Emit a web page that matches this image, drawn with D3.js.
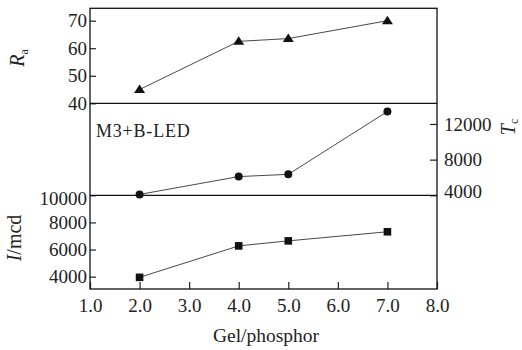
<!DOCTYPE html>
<html>
<head>
<meta charset="utf-8">
<script src="https://cdn.jsdelivr.net/npm/d3@7"></script>
<style>
  body { margin: 0; background: #fff; }
  svg { display: block; font-family: "Liberation Serif", "DejaVu Serif", serif; }
  .tick text { font-family: "Liberation Serif", "DejaVu Serif", serif; font-size: 19px; fill: #222; }
  .tick line { stroke: #222; stroke-width: 1.2; }
</style>
</head>
<body>
<div id="chart"></div>
<script>
// data
var gelRatio = [2.0, 4.0, 5.0, 7.0];
var raValues = [45, 62.5, 63.5, 70];
var tcValues = [4100, 6100, 6350, 13400];
var intensityValues = [3950, 6270, 6640, 7310];

var xTicks = [1, 2, 3, 4, 5, 6, 7, 8];
var raTicks = [40, 50, 60, 70];
var tcTicks = [4000, 8000, 12000];
var intensityTicks = [4000, 6000, 8000, 10000];

var width = 522, height = 350;
var plotLeft = 90, plotRight = 437, plotTop = 8.3, sep1 = 103.3, sep2 = 195.3, plotBottom = 289;

var svg = d3.select("#chart").append("svg")
    .attr("width", width)
    .attr("height", height);

var x = d3.scaleLinear().domain([1, 8]).range([plotLeft, plotRight]);
var yRa = d3.scaleLinear().domain([40, 74.5]).range([sep1, plotTop]);
var yTc = d3.scaleLinear().domain([4000, 14320]).range([sep2, sep1]);
var yI = d3.scaleLinear().domain([3090, 10000]).range([plotBottom, sep2]);

// axes (ticks point inward)
var gx = svg.append("g")
    .attr("transform", "translate(0," + plotBottom + ")")
    .call(d3.axisBottom(x).tickValues(xTicks).tickSize(-7).tickPadding(10)
      .tickFormat(d3.format(".1f")));
gx.selectAll("text").attr("dy", "0.71em");

svg.append("g")
    .attr("transform", "translate(" + plotLeft + ",0)")
    .call(d3.axisLeft(yRa).tickValues(raTicks).tickSize(-6).tickPadding(3)
      .tickFormat(d3.format("d")));

svg.append("g")
    .attr("class", "i-axis")
    .attr("transform", "translate(" + plotLeft + ",0)")
    .call(d3.axisLeft(yI).tickValues(intensityTicks).tickSize(-6).tickPadding(3)
      .tickFormat(d3.format("d")));

svg.append("g")
    .attr("class", "tc-axis")
    .attr("transform", "translate(" + plotRight + ",0)")
    .call(d3.axisRight(yTc).tickValues(tcTicks).tickSize(-7).tickPadding(7)
      .tickFormat(d3.format("d")));

svg.selectAll(".domain").remove();

// nudge labels that sit on the panel separator
svg.select(".i-axis").selectAll(".tick").filter(function(d) { return d === 10000; })
    .select("text").attr("dy", "0.5em");
svg.select(".tc-axis").selectAll(".tick").filter(function(d) { return d === 4000; })
    .select("text").attr("dy", "0.1em");

// frame and panel separators
svg.append("rect")
    .attr("x", plotLeft).attr("y", plotTop)
    .attr("width", plotRight - plotLeft).attr("height", plotBottom - plotTop)
    .attr("fill", "none").attr("stroke", "#111").attr("stroke-width", 1.3);

svg.selectAll(".sep")
  .data([sep1, sep2])
  .enter().append("line")
    .attr("class", "sep")
    .attr("x1", plotLeft).attr("x2", plotRight)
    .attr("y1", function(d) { return d; }).attr("y2", function(d) { return d; })
    .attr("stroke", "#111").attr("stroke-width", 1.3);

function series(values, y) {
  var pts = gelRatio.map(function(g, i) { return [x(g), y(values[i])]; });
  svg.append("path")
      .attr("d", d3.line()(pts))
      .attr("fill", "none")
      .attr("stroke", "#333")
      .attr("stroke-width", 0.9);
  return pts;
}

var raPts = series(raValues, yRa);
svg.selectAll(".tri")
  .data(raPts)
  .enter().append("path")
    .attr("class", "tri")
    .attr("d", function(d) {
      return "M" + d[0] + "," + (d[1] - 5) + "L" + (d[0] + 5.5) + "," + (d[1] + 3.5) +
             "L" + (d[0] - 5.5) + "," + (d[1] + 3.5) + "Z";
    })
    .attr("fill", "#111");

var tcPts = series(tcValues, yTc);
svg.selectAll(".dot")
  .data(tcPts)
  .enter().append("circle")
    .attr("class", "dot")
    .attr("cx", function(d) { return d[0]; })
    .attr("cy", function(d) { return d[1]; })
    .attr("r", 4)
    .attr("fill", "#111");

var iPts = series(intensityValues, yI);
svg.selectAll(".sq")
  .data(iPts)
  .enter().append("rect")
    .attr("class", "sq")
    .attr("x", function(d) { return d[0] - 3.8; })
    .attr("y", function(d) { return d[1] - 3.8; })
    .attr("width", 7.6).attr("height", 7.6)
    .attr("fill", "#111");

// labels
svg.append("text")
    .attr("x", 96).attr("y", 136.5)
    .attr("font-size", 18)
    .attr("letter-spacing", 0.8)
    .attr("fill", "#222")
    .text("M3+B-LED");

var raLabel = svg.append("text")
    .attr("transform", "translate(24,58) rotate(-90)")
    .attr("text-anchor", "middle")
    .attr("font-size", 20)
    .attr("fill", "#222");
raLabel.append("tspan").attr("font-style", "italic").text("R");
raLabel.append("tspan").attr("font-size", 12).attr("dy", 4).text("a");

var tcLabel = svg.append("text")
    .attr("transform", "translate(515,127) rotate(-90)")
    .attr("text-anchor", "middle")
    .attr("font-size", 20)
    .attr("fill", "#222");
tcLabel.append("tspan").attr("font-style", "italic").text("T");
tcLabel.append("tspan").attr("font-size", 12).attr("dy", 3).text("c");

var iLabel = svg.append("text")
    .attr("transform", "translate(21,238) rotate(-90)")
    .attr("text-anchor", "middle")
    .attr("font-size", 20)
    .attr("fill", "#222");
iLabel.append("tspan").attr("font-style", "italic").text("I");
iLabel.append("tspan").text("/mcd");

svg.append("text")
    .attr("x", 266).attr("y", 342)
    .attr("text-anchor", "middle")
    .attr("font-size", 19.5)
    .attr("fill", "#222")
    .text("Gel/phosphor");
</script>
</body>
</html>
